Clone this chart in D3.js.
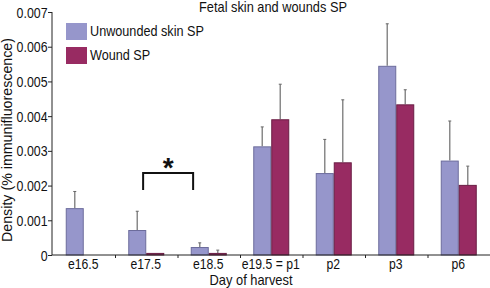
<!DOCTYPE html>
<html>
<head>
<meta charset="utf-8">
<script src="https://cdn.jsdelivr.net/npm/d3@7"></script>
<style>
  body { margin: 0; background: #fff; }
  svg text { font-family: "Liberation Sans", Arial, sans-serif; fill: #111; }
</style>
</head>
<body>
<svg id="chart" width="490" height="288"></svg>
<script>
// Fetal skin and wounds SP: density of SP immunofluorescence by day of harvest
const days = ['e16.5', 'e17.5', 'e18.5', 'e19.5 = p1', 'p2', 'p3', 'p6'];
const seriesNames = ['Unwounded skin SP', 'Wound SP'];
const unwounded = [0.00135, 0.00072, 0.00023, 0.00313, 0.00236, 0.00545, 0.00272];
const unwoundedErr = [0.00048, 0.00054, 0.00012, 0.00056, 0.00097, 0.00121, 0.00114];
const wound = [0, 0.00006, 0.00006, 0.00391, 0.00267, 0.00434, 0.00202];
const woundErr = [0, 0, 0.00008, 0.00101, 0.00180, 0.00042, 0.00054];
const yTicks = [0, 0.001, 0.002, 0.003, 0.004, 0.005, 0.006, 0.007];
const colors = ['#9696cb', '#982b62'];
const strokes = ['#6c6c9c', '#6a1d44'];

const svg = d3.select('#chart');

// horizontal squeeze so a text takes the width it has in the source
function fitTo(node, target) {
  const w = node.getComputedTextLength();
  return w > 0 ? target / w : 1;
}

const x = d3.scaleBand().domain(days).range([52.5, 490]).paddingInner(0);
const xs = d3.scaleBand().domain(seriesNames).range([0, 36]);
const y = d3.scaleLinear().domain([0, 0.007]).range([255, 12]);
const off = (x.bandwidth() - 36) / 2;

// bars + error bars
const rows = days.map((d, i) => ({ day: d, vals: [
  { s: seriesNames[0], v: unwounded[i], e: unwoundedErr[i], k: 0 },
  { s: seriesNames[1], v: wound[i], e: woundErr[i], k: 1 }
]}));
const g = svg.selectAll('g.day').data(rows).join('g')
  .attr('class', 'day')
  .attr('transform', d => `translate(${x(d.day) + off},0)`);
const items = g.selectAll('g.bar').data(d => d.vals.filter(v => v.v > 0)).join('g').attr('class', 'bar');
const cx = d => xs(d.s) + xs.bandwidth() / 2;
items.filter(d => d.e > 0).append('line')
  .attr('x1', cx).attr('x2', cx)
  .attr('y1', d => y(d.v)).attr('y2', d => y(d.v + d.e))
  .attr('stroke', '#8a8a8a').attr('stroke-width', 1.5);
items.filter(d => d.e > 0).append('line')
  .attr('x1', d => cx(d) - 1.5).attr('x2', d => cx(d) + 1.5)
  .attr('y1', d => y(d.v + d.e)).attr('y2', d => y(d.v + d.e))
  .attr('stroke', '#666').attr('stroke-width', 1);
items.append('rect')
  .attr('x', d => xs(d.s) + 0.5).attr('width', xs.bandwidth() - 1)
  .attr('y', d => y(d.v) + 0.5).attr('height', d => Math.max(0, y(0) - y(d.v) - 0.5))
  .attr('fill', d => colors[d.k]).attr('stroke', d => strokes[d.k]).attr('stroke-width', 1);

// y axis
const ya = svg.append('g').attr('transform', 'translate(52,0)')
  .call(d3.axisLeft(y).tickValues(yTicks).tickSize(4).tickPadding(1)
    .tickFormat(d => d === 0 ? '0' : d3.format('.3f')(d)));
ya.select('.domain').attr('d', `M0,${y(0.007)}V${y(0)}`).attr('stroke', '#222');
ya.selectAll('.tick line').attr('stroke', '#222');
const yt = ya.selectAll('text').attr('font-size', 14).attr('dy', '0.36em');
const kY = fitTo(yt.filter(d => d === 0.007).node(), 31);
yt.attr('transform', `scale(${kY},1)`);

// x axis: boundary ticks + labels at centers
const edges = days.map(d => x(d)).concat([x.range()[1]]);
const xb = svg.append('g').attr('transform', `translate(0,${y(0)})`)
  .call(d3.axisBottom(d3.scaleLinear().domain([52, 490]).range([52, 490]))
    .tickValues(edges.slice(1)).tickSize(3).tickFormat(''));
xb.select('.domain').attr('d', 'M52,0H490').attr('stroke', '#222');
xb.selectAll('.tick line').attr('stroke', '#222');
const xl = svg.append('g').attr('transform', `translate(0,${y(0)})`)
  .call(d3.axisBottom(x).tickSize(0).tickPadding(4));
xl.select('.domain').remove();
const xt = xl.selectAll('text').attr('font-size', 14).attr('dy', '0.71em');
const kX = fitTo(xt.filter(d => d === 'e19.5 = p1').node(), 58);
xt.attr('transform', `scale(${kX},1)`);
xl.selectAll('.tick').attr('transform', d => `translate(${x(d) + x.bandwidth() / 2 - 0.5},0)`);

// axis titles
const xTitle = svg.append('text').attr('text-anchor', 'middle').attr('font-size', 14).text('Day of harvest');
xTitle.attr('transform', `translate(251,285) scale(${fitTo(xTitle.node(), 83)},1)`);
const yTitle = svg.append('text').attr('text-anchor', 'middle').attr('font-size', 14).text('Density (% immunifluorescence)');
yTitle.attr('transform', `translate(12,140) rotate(-90) scale(${fitTo(yTitle.node(), 204)},1)`);
const title = svg.append('text').attr('text-anchor', 'middle').attr('font-size', 14).text('Fetal skin and wounds SP');
title.attr('transform', `translate(273,12) scale(${fitTo(title.node(), 148)},1)`);

// legend
const lg = svg.append('g').attr('transform', 'translate(66,23)');
let kL = 1;
seriesNames.forEach((s, i) => {
  lg.append('rect').attr('x', 0).attr('y', i * 24).attr('width', 21).attr('height', 17)
    .attr('fill', colors[i]);
  const t = lg.append('text').attr('font-size', 14).text(s);
  if (i === 0) kL = fitTo(t.node(), 114);
  t.attr('transform', `translate(24,${i * 24 + 13}) scale(${kL},1)`);
});

// significance bracket between e17.5 and e18.5
const bx1 = x('e17.5') + x.bandwidth() * 0.45, bx2 = x('e18.5') + x.bandwidth() * 0.25;
const by = y(0.00236), byl = y(0.00187);
svg.append('path').attr('d', `M${bx1},${byl}V${by}H${bx2}V${byl}`)
  .attr('fill', 'none').attr('stroke', '#111').attr('stroke-width', 2);
svg.append('text').attr('x', (bx1 + bx2) / 2).attr('y', by + 4)
  .attr('text-anchor', 'middle').attr('font-size', 28).attr('font-weight', 'bold')
  .text('*');
</script>
</body>
</html>
